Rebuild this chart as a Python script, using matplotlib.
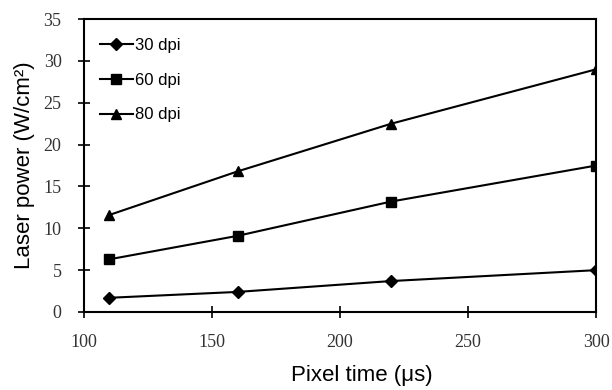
import matplotlib
matplotlib.use("Agg")
import matplotlib.pyplot as plt

# data
pixel_time = [110, 160, 220, 300]
dpi_30 = [1.7, 2.4, 3.7, 5.0]
dpi_60 = [6.3, 9.1, 13.2, 17.5]
dpi_80 = [11.6, 16.8, 22.5, 29.0]

series = [("30 dpi", dpi_30, "D", 6), ("60 dpi", dpi_60, "s", 7), ("80 dpi", dpi_80, "^", 7)]

fig = plt.figure(figsize=(6.12, 3.90), dpi=100)
ax = fig.add_axes([0.137, 0.20, 0.837, 0.751])

for label, vals, mk, ms in series:
    ax.plot(pixel_time, vals, color="black", lw=1.5, marker=mk, markersize=ms,
            markerfacecolor="black", label=label)

ax.set_xlim(100, 300)
ax.set_ylim(0, 35)
ax.set_xticks(range(100, 301, 50))
ax.set_yticks(range(0, 36, 5))

for lab in ax.get_xticklabels() + ax.get_yticklabels():
    lab.set_family("Liberation Serif")
    lab.set_fontsize(13)
    lab.set_color("#333333")

ax.tick_params(axis="x", direction="inout", length=8, width=1.2, pad=12)
ax.tick_params(axis="y", direction="inout", length=8, width=1.2, pad=12)

for s in ax.spines.values():
    s.set_linewidth(1.5)

ax.set_xlabel("Pixel time (μs)", family="Liberation Sans", fontsize=16)
ax.xaxis.set_label_coords(0.543, -0.182)
ax.set_ylabel("Laser power (W/cm²)", family="Liberation Sans", fontsize=16, labelpad=6)

leg = ax.legend(loc="upper left", frameon=False, prop={"family": "Liberation Sans", "size": 12},
                labelspacing=1.18, handlelength=2.0, handletextpad=0.15,
                borderaxespad=0.3, bbox_to_anchor=(0.008, 0.975))

plt.savefig("out.png", dpi=100)
